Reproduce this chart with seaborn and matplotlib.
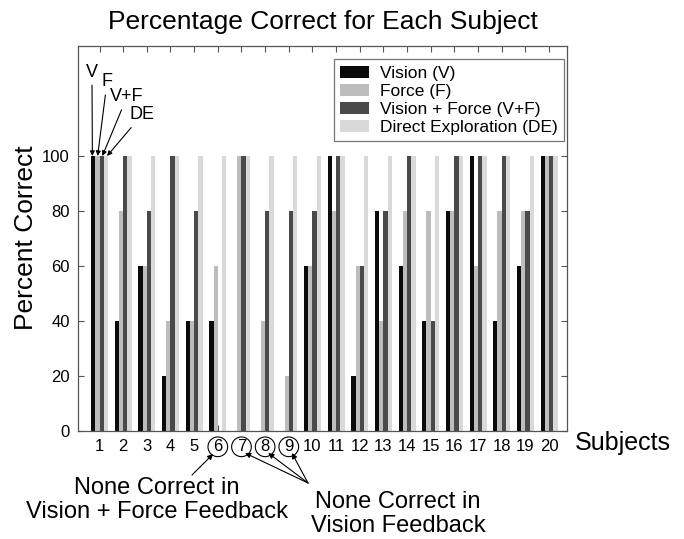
import pandas as pd
import numpy as np
import seaborn as sns
import matplotlib.pyplot as plt

# percent correct per subject, one list per feedback condition
subjects = [str(i) for i in range(1, 21)]
vision = [100, 40, 60, 20, 40, 40, 0, 0, 0, 60, 100, 20, 80, 60, 40, 80, 100, 40, 60, 100]
force = [100, 80, 60, 40, 40, 60, 100, 40, 20, 60, 80, 60, 40, 80, 80, 80, 60, 80, 80, 100]
vision_force = [100, 100, 80, 100, 80, 0, 100, 80, 80, 80, 100, 60, 80, 100, 40, 100, 100, 100, 80, 100]
direct = [100] * 20
conditions = ["Vision (V)", "Force (F)", "Vision + Force (V+F)", "Direct Exploration (DE)"]
colors = ["#0a0a0a", "#bdbdbd", "#4a4a4a", "#d9d9d9"]

df = pd.DataFrame({
    "subject": subjects * 4,
    "pct": vision + force + vision_force + direct,
    "cond": np.repeat(conditions, 20),
})

sns.set_style("ticks")
plt.rcParams["font.family"] = ["Liberation Sans", "DejaVu Sans"]
plt.rcParams["text.color"] = "black"
plt.rcParams["axes.labelcolor"] = "black"
plt.rcParams["xtick.color"] = "black"
plt.rcParams["ytick.color"] = "black"

fig = plt.figure(figsize=(6.84, 5.39), dpi=100)
ax = fig.add_axes([0.114, 0.2004, 0.715, 0.7143])

sns.barplot(data=df, x="subject", y="pct", hue="cond", order=subjects,
            hue_order=conditions, palette=colors, saturation=1,
            width=0.72, gap=0, linewidth=0, errorbar=None, ax=ax)

ax.set_ylim(0, 140)
ax.set_xlim(-0.91, 19.76)
ax.set_yticks(range(0, 101, 20))
ax.tick_params(direction="in", top=True, right=True, labelsize=12, length=4,
               color="#555555", labelcolor="black", pad=6)
for s in ax.spines.values():
    s.set_visible(True)
    s.set_color("#555555")
    s.set_linewidth(0.9)
ax.set_xlabel("")
ax.set_ylabel("")
ax.set_title("Percentage Correct for Each Subject", fontsize=19, pad=12, color="black")

# circle the subjects with no correct answers
for lab in ax.get_xticklabels():
    if lab.get_text() in ["6", "7", "8", "9"]:
        lab.set_bbox(dict(boxstyle="circle,pad=0.14", fc="none", ec="black", lw=0.8))

leg = ax.legend(loc="upper right", bbox_to_anchor=(0.993, 0.965), borderaxespad=0,
                fontsize=12.5, frameon=True, fancybox=False, edgecolor="#555555",
                labelspacing=0.15, handlelength=1.65, handleheight=0.75,
                handletextpad=0.62, borderpad=0.35)
leg.get_frame().set_linewidth(0.9)
for t in leg.get_texts():
    t.set_color("black")

fig.text(26 / 684, 1 - 238 / 539, "Percent Correct", rotation=90, fontsize=19,
         ha="center", va="center")
fig.text(575 / 684, 1 - 443 / 539, "Subjects", fontsize=18, ha="left", va="center")

# V / F / V+F / DE pointers on subject 1
arr = dict(arrowstyle="-|>", color="black", lw=0.8, mutation_scale=7, shrinkA=1, shrinkB=0)
labels = ["V", "F", "V+F", "DE"]
text_xy = [(-0.32, 130.5), (0.32, 127), (1.16, 121.5), (1.80, 115)]
tips = [(-0.30, 100), (-0.08, 100), (0.12, 100), (0.32, 100)]
for lab, txy, tip in zip(labels, text_xy, tips):
    ax.annotate(lab, xy=tip, xytext=txy, fontsize=13, ha="center", va="center",
                arrowprops=arr)

# notes below the axis
fig.text(157 / 684, 1 - 500 / 539, "None Correct in\nVision + Force Feedback",
         fontsize=17, ha="center", va="center", linespacing=1.15)
fig.text(398 / 684, 1 - 514 / 539, "None Correct in\nVision Feedback",
         fontsize=17, ha="center", va="center", linespacing=1.15)

arr2 = dict(arrowstyle="-|>", color="black", lw=0.8, mutation_scale=8, shrinkA=0, shrinkB=0)
ax.annotate("", xy=(4.8, 1 - 454 / 539), xycoords=("data", "figure fraction"),
            xytext=(192 / 684, 1 - 475 / 539), textcoords="figure fraction",
            arrowprops=arr2)
for tx in [6.15, 7.13, 8.13]:
    ax.annotate("", xy=(tx, 1 - 453 / 539), xycoords=("data", "figure fraction"),
                xytext=(308 / 684, 1 - 483 / 539), textcoords="figure fraction",
                arrowprops=arr2)

fig.savefig("out.png", dpi=100)
